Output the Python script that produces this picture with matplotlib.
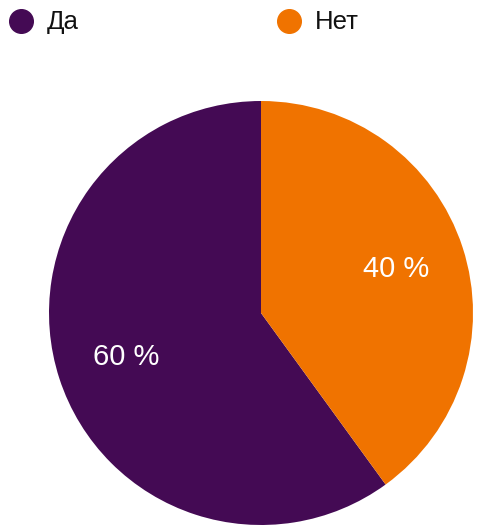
import matplotlib
matplotlib.use("Agg")
import matplotlib.pyplot as plt
from matplotlib.lines import Line2D

categories = ["Да", "Нет"]
values = [60, 40]
colors = ["#440a54", "#f07300"]

plt.rcParams['font.family'] = ['Liberation Sans', 'DejaVu Sans']

W, H = 491, 526
fig = plt.figure(figsize=(W / 100, H / 100), dpi=100)
cx, cy, R = 261, 313, 212
ax = fig.add_axes([(cx - R) / W, (H - cy - R) / H, 2 * R / W, 2 * R / H])
wedges, texts, autotexts = ax.pie(
    values, colors=colors, startangle=90, counterclock=True,
    autopct=lambda p: f"{p:.0f} %", pctdistance=0.67,
    textprops=dict(color="white", fontsize=21),
    wedgeprops=dict(linewidth=0))
ax.set_xlim(-1, 1)
ax.set_ylim(-1, 1)
ax.set_aspect("equal")
ax.axis("off")

# legend
leg_x = [21, 289]
leg_y = 21
for x, cat, col in zip(leg_x, categories, colors):
    fig.add_artist(Line2D([x / W], [1 - leg_y / H], marker="o", markersize=17,
                          color=col, transform=fig.transFigure, linestyle="none"))
    fig.text((x + 26) / W, 1 - (leg_y + 1) / H, cat, fontsize=18.5, va="center", ha="left",
             color="#111111")

fig.savefig("out.png", dpi=100)
